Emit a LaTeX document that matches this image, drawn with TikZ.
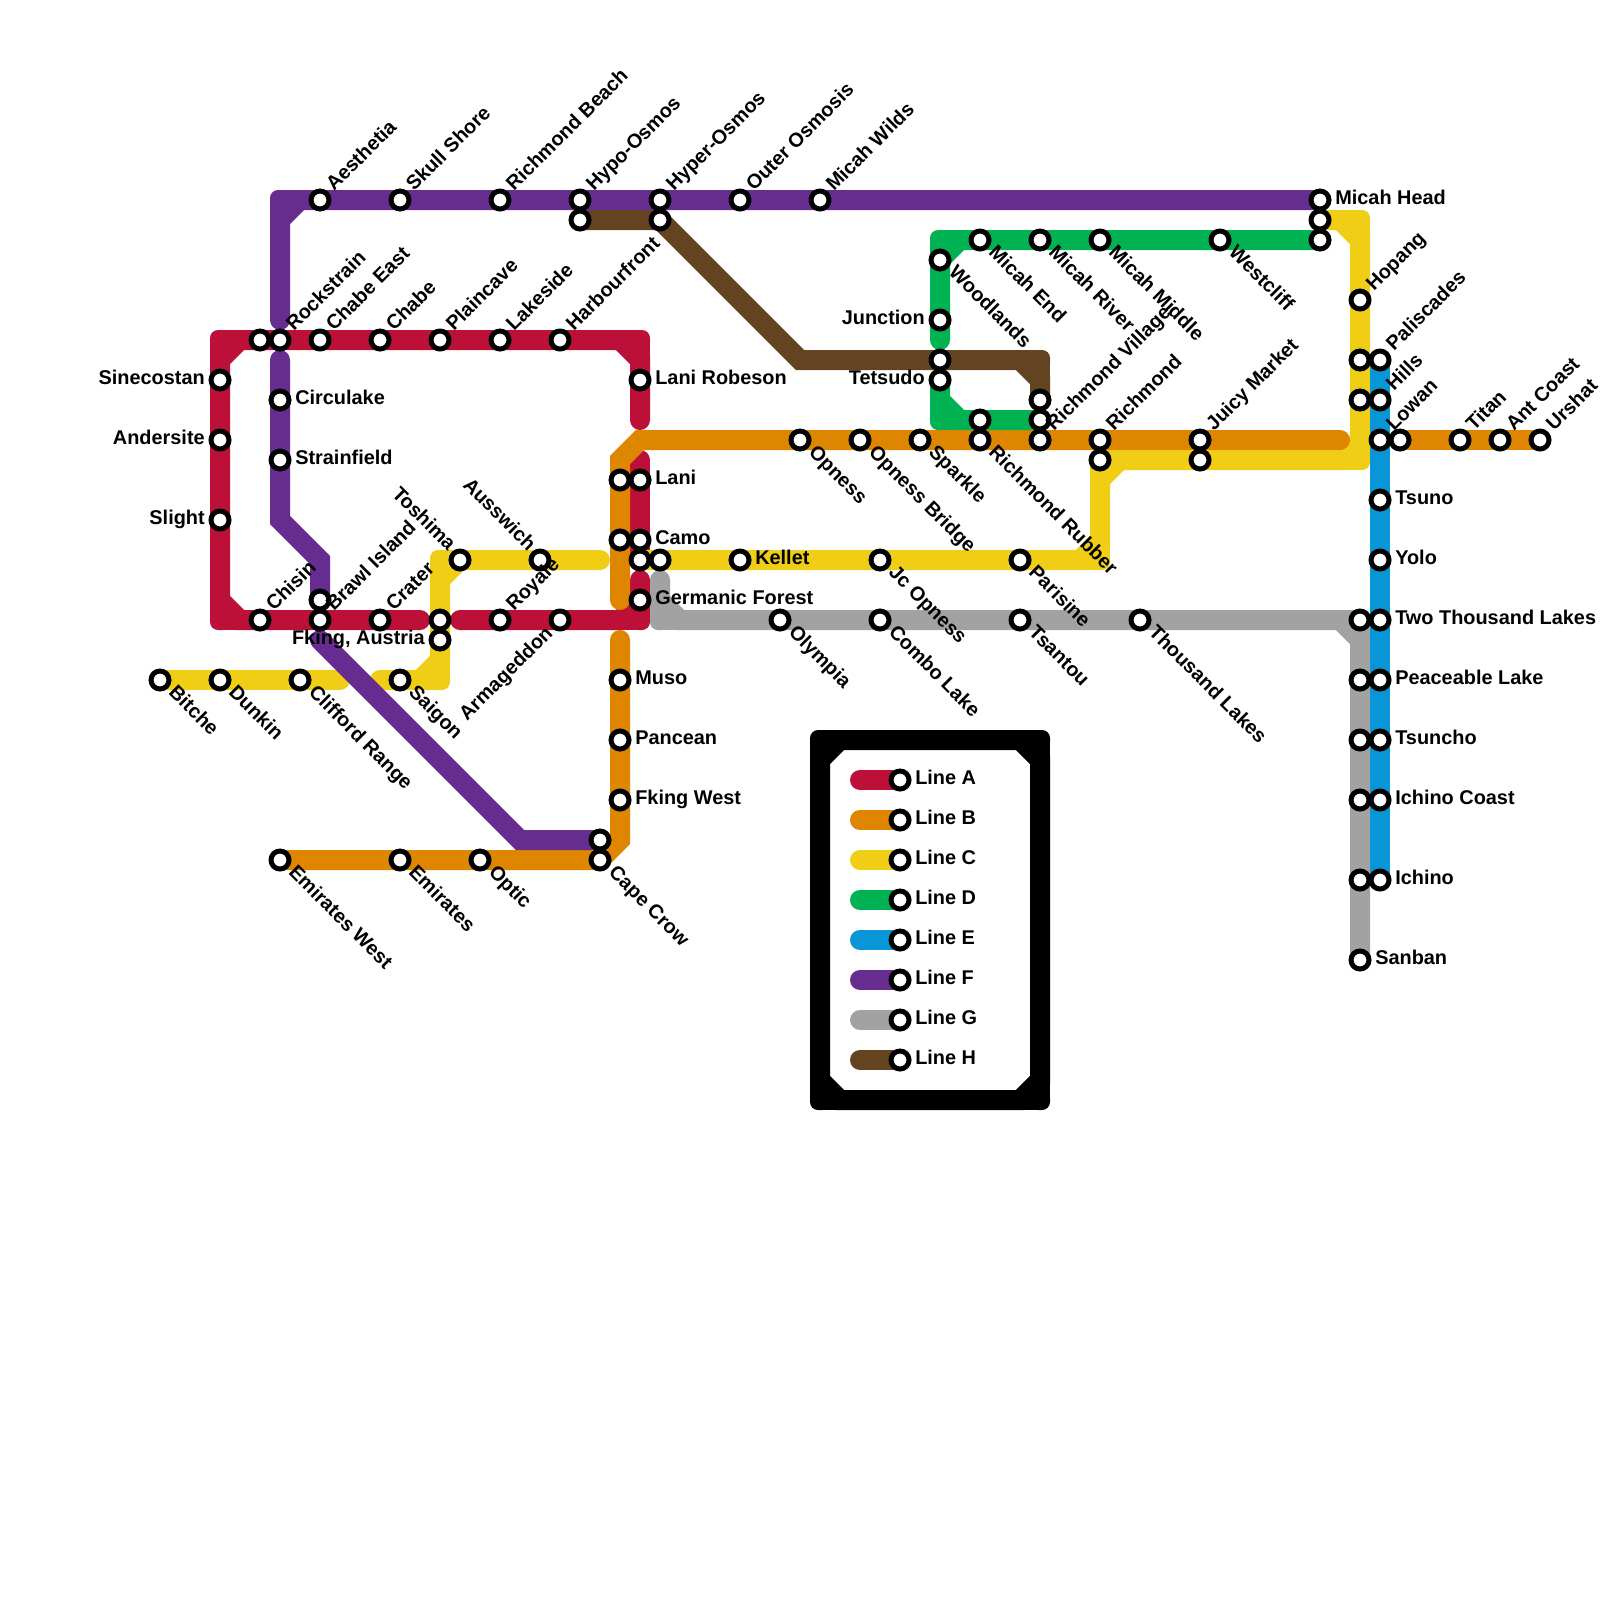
\documentclass[tikz,border=0pt]{standalone}
\usepackage{fontspec}
\setmainfont{Liberation Sans}
\usetikzlibrary{backgrounds}
\definecolor{lA}{HTML}{BD1038}
\definecolor{lB}{HTML}{DF8600}
\definecolor{lC}{HTML}{F0CE15}
\definecolor{lD}{HTML}{00B251}
\definecolor{lE}{HTML}{0896D7}
\definecolor{lF}{HTML}{662C90}
\definecolor{lG}{HTML}{A2A2A2}
\definecolor{lH}{HTML}{634320}
\tikzset{
  ln/.style={line width=.5cm, line cap=round, line join=miter},
  stn/.style={circle, draw=black, fill=white, line width=.125cm, minimum size=.45cm, inner sep=0pt},
  lbl/.style={font=\fontsize{14.15}{14.15}\selectfont\bfseries, inner sep=0pt},
  lblr/.style={lbl, anchor=base west},
  lbll/.style={lbl, anchor=base east},
  lblur/.style={lbl, anchor=base west, rotate=45},
  lbldr/.style={lbl, anchor=base west, rotate=-45},
  lblul/.style={lbl, anchor=base east, rotate=-45},
  lbldl/.style={lbl, anchor=base east, rotate=45}
}
% outer corner of a bend, the cut inner side comes from the line itself
\newcommand{\crn}[5]{
  \fill[#1] (#2+.1*#4,#3+.1*#5) -- (#2-.5*#4,#3+.1*#5) -- (#2-.5*#4,#3-.1*#5)
    .. controls (#2-.5*#4,#3-.32*#5) and (#2-.32*#4,#3-.5*#5) .. (#2-.1*#4,#3-.5*#5) -- (#2+.1*#4,#3-.5*#5) -- cycle;
  \draw[#1, line width=.5cm] (#2,#3) -- (#2+#4,#3) (#2,#3) -- (#2,#3+#5);
}
\begin{document}
\begin{tikzpicture}[x=.5cm, y=-.5cm]
  \useasboundingbox (0,0) rectangle (80,80);
  \foreach \nm/\x/\y in {rTop/13/17, oLeftA/31/24, oLeftB/31/27, rYel/32/28, yStart/33/28, rCross/22/31,
      fBrawl/16/30, hHypo/29/11, hHyper/33/11, fCape/30/42, hWood/47/18, dLow/49/21, hEnd/52/20, dEnd/52/21,
      cRich/55/23, cJuicy/60/23, cHead/66/11, dHead/66/12, cPal/68/18, cHills/68/20, bLow/70/22,
      gLakes/68/31, gPeace/68/34, gTsun/68/37, gCoast/68/40, gIch/68/44}
    \node[stn] (\nm) at (\x,\y) {};
  \foreach \nm/\x/\y/\txt in {circulake/14/20/Circulake, strainfield/14/23/Strainfield, robeson/32/19/Lani Robeson,
      lani/32/24/Lani, camo/32/27/Camo, germanic/32/30/Germanic Forest, kellet/37/28/Kellet,
      muso/31/34/Muso, pancean/31/37/Pancean, fkingw/31/40/Fking West, head/66/10/Micah Head,
      tsuno/69/25/Tsuno, yolo/69/28/Yolo, twolakes/69/31/Two Thousand Lakes, peace/69/34/Peaceable Lake,
      tsuncho/69/37/Tsuncho, coast/69/40/Ichino Coast, ichino/69/44/Ichino, sanban/68/48/Sanban} {
    \node[stn] (\nm) at (\x,\y) {};
    \node[lblr] (\nm-t) at (\x+.75,\y+.2) {\txt};
  }
  \foreach \nm/\x/\y/\txt in {sine/11/19/Sinecostan, ander/11/22/Andersite, slight/11/26/Slight,
      {fking/22/32/Fking, Austria}, junction/47/16/Junction, tetsudo/47/19/Tetsudo} {
    \node[stn] (\nm) at (\x,\y) {};
    \node[lbll] (\nm-t) at (\x-.75,\y+.2) {\txt};
  }
  \foreach \nm/\x/\y/\txt in {bitche/8/34/Bitche, dunkin/11/34/Dunkin, clifford/15/34/Clifford Range, saigon/20/34/Saigon,
      emiw/14/43/Emirates West, emi/20/43/Emirates, optic/24/43/Optic, cape/30/43/Cape Crow,
      olympia/39/31/Olympia, combo/44/31/Combo Lake, tsantou/51/31/Tsantou, thousand/57/31/Thousand Lakes,
      jc/44/28/Jc Opness, parisine/51/28/Parisine, opness/40/22/Opness, opbridge/43/22/Opness Bridge,
      sparkle/46/22/Sparkle, rubber/49/22/Richmond Rubber, woodlands/47/13/Woodlands, mend/49/12/Micah End,
      mriver/52/12/Micah River, mmiddle/55/12/Micah Middle, westcliff/61/12/Westcliff} {
    \node[stn] (\nm) at (\x,\y) {};
    \node[lbldr] (\nm-t) at (\x+.38,\y+.67) {\txt};
  }
  \foreach \nm/\x/\y/\txt in {toshima/23/28/Toshima, ausswich/27/28/Ausswich} {
    \node[stn] (\nm) at (\x,\y) {};
    \node[lblul] (\nm-t) at (\x-.6,\y-.4) {\txt};
  }
  \node[stn] (armageddon) at (28,31) {};
  \node[lbldl] (armageddon-t) at (28-.3,31+.72) {Armageddon};
  \foreach \nm/\x/\y/\txt in {aesthetia/16/10/Aesthetia, skull/20/10/Skull Shore, rbeach/25/10/Richmond Beach,
      hypo/29/10/Hypo-Osmos, hyper/33/10/Hyper-Osmos, outer/37/10/Outer Osmosis, wilds/41/10/Micah Wilds,
      rock/14/17/Rockstrain, chabee/16/17/Chabe East, chabe/19/17/Chabe, plain/22/17/Plaincave,
      lakeside/25/17/Lakeside, harbour/28/17/Harbourfront, chisin/13/31/Chisin, brawl/16/31/Brawl Island,
      crater/19/31/Crater, royale/25/31/Royale, village/52/22/Richmond Village, richmond/55/22/Richmond,
      juicy/60/22/Juicy Market, hopang/68/15/Hopang, palis/69/18/Paliscades, hills/69/20/Hills,
      lowan/69/22/Lowan, titan/73/22/Titan, antcoast/75/22/Ant Coast, urshat/77/22/Urshat} {
    \node[stn] (\nm) at (\x,\y) {};
    \node[lblur] (\nm-t) at (\x+.7,\y-.4) {\txt};
  }
  \foreach \nm/\x/\y in {aW/21/31, aN/32/21, aS/32/23, aT/32/29, aE/23/31, bE/67/22, bS/31/30, bT/31/32,
      cA/17/34, cB/19/34, cE/30/28, dS/47/17, fS/14/16, fT/14/18, fU/16/32, gT/33/29}
    \coordinate (\nm) at (\x,\y);
  \begin{scope}[on background layer]
    \draw[ln, lA] (aW) -- (12,31) -- (11,30) -- (11,18) -- (12,17) -- (31,17) -- (32,18) -- (aN);
    \draw[ln, lA] (aS) -- (rYel.center);
    \draw[ln, lA] (aT) -- (32,30) -- (31,31) -- (aE);
    \crn{lA}{11}{17}{1}{1}
    \crn{lA}{32}{17}{-1}{1}
    \crn{lA}{11}{31}{1}{-1}
    \crn{lA}{32}{31}{-1}{-1}
    \draw[ln, lC] (bitche.center) -- (cA);
    \draw[ln, lC] (cB) -- (21,34) -- (22,33) -- (22,29) -- (23,28) -- (cE);
    \draw[ln, lC] (rYel.center) -- (54,28) -- (55,27) -- (55,24) -- (56,23) -- (67,23) -- (68,22) -- (68,12) -- (67,11) -- (cHead.center);
    \crn{lC}{22}{28}{1}{1}
    \crn{lC}{22}{34}{-1}{-1}
    \crn{lC}{55}{23}{1}{1}
    \crn{lC}{55}{28}{-1}{-1}
    \crn{lC}{68}{23}{-1}{-1}
    \crn{lC}{68}{11}{-1}{1}
    \draw[ln, lB] (bE) -- (32,22) -- (31,23) -- (bS);
    \draw[ln, lB] (bT) -- (31,42) -- (cape.center) -- (emiw.center);
    \draw[ln, lB] (bLow.center) -- (urshat.center);
    \draw[ln, lD] (dHead.center) -- (48,12) -- (47,13) -- (dS);
    \draw[ln, lD] (tetsudo.center) -- (47,20) -- (48,21) -- (dEnd.center);
    \crn{lD}{47}{12}{1}{1}
    \crn{lD}{47}{21}{1}{-1}
    \draw[ln, lE] (palis.center) -- (ichino.center);
    \draw[ln, lF] (head.center) -- (15,10) -- (14,11) -- (fS);
    \draw[ln, lF] (fT) -- (14,26) -- (16,28) -- (fBrawl.center);
    \draw[ln, lF] (fU) -- (26,42) -- (fCape.center);
    \crn{lF}{14}{10}{1}{1}
    \draw[ln, lG] (gT) -- (33,30) -- (34,31) -- (67,31) -- (68,32) -- (sanban.center);
    \crn{lG}{33}{31}{1}{-1}
    \crn{lG}{68}{31}{-1}{1}
    \draw[ln, lH] (hHypo.center) -- (hHyper.center) -- (40,18) -- (51,18) -- (52,19) -- (hEnd.center);
    \crn{lH}{52}{18}{-1}{1}
    \draw[ln, black] (42,37) -- (51,37) -- (52,38) -- (52,54) -- (51,55) -- (42,55) -- (41,54) -- (41,38) -- cycle;
    \crn{black}{41}{37}{1}{1}
    \crn{black}{52}{37}{-1}{1}
    \crn{black}{41}{55}{1}{-1}
    \crn{black}{52}{55}{-1}{-1}
  \end{scope}
  \foreach \ltr/\cname/\y in {A/lA/39, B/lB/41, C/lC/43, D/lD/45, E/lE/47, F/lF/49, G/lG/51, H/lH/53} {
    \node[stn] (key\ltr) at (45,\y) {};
    \node[lblr] (key\ltr-t) at (45.75,\y+.2) {Line \ltr};
    \coordinate (pill\ltr) at (43,\y);
    \begin{scope}[on background layer]
      \draw[ln, \cname] (pill\ltr) -- (key\ltr.center);
    \end{scope}
  }
\end{tikzpicture}
\end{document}
